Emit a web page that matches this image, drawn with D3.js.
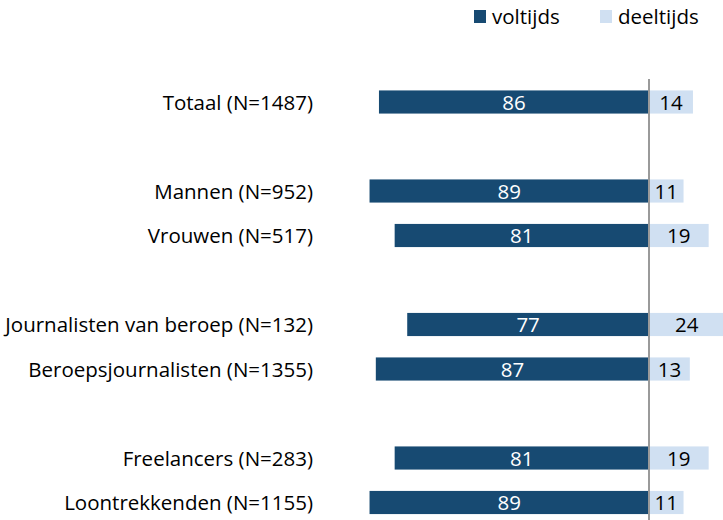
<!DOCTYPE html>
<html>
<head>
<meta charset="utf-8">
<style type="text/css">
body { margin: 0; background: #fff; }
text { font-family: 'Open Sans', sans-serif; }
</style>
</head>
<body>
<script src="https://d3js.org/d3.v7.min.js"></script>
<script type="text/javascript">

// data, blank names are the gaps between groups
const categories = ['Totaal (N=1487)', '', 'Mannen (N=952)', 'Vrouwen (N=517)', ' ',
  'Journalisten van beroep (N=132)', 'Beroepsjournalisten (N=1355)', '  ',
  'Freelancers (N=283)', 'Loontrekkenden (N=1155)'];
const voltijds = [86, null, 89, 81, null, 77, 87, null, 81, 89];
const deeltijds = [14, null, 11, 19, null, 24, 13, null, 19, 11];
const seriesNames = ['voltijds', 'deeltijds'];

const width = 723, height = 520;
const center = 649;

const svg = d3.select('body').append('svg')
    .attr('width', width)
    .attr('height', height);

// x: px per percent, left side goes negative
const x = d3.scaleLinear()
    .domain([-100, 100])
    .range([center - 314, center + 314]);

const y = d3.scaleBand()
    .domain(categories)
    .range([79.75, 524.75])
    .paddingInner(0.48)
    .paddingOuter(0.24);

const rows = categories.map((c, i) => ({name: c, vol: voltijds[i], deel: deeltijds[i]}))
    .filter(d => d.vol != null);

svg.selectAll('.barV')
    .data(rows)
  .enter().append('rect')
    .attr('x', d => x(-d.vol))
    .attr('width', d => x(0) - x(-d.vol))
    .attr('y', d => y(d.name))
    .attr('height', y.bandwidth())
    .attr('fill', '#174A72');

svg.selectAll('.barD')
    .data(rows)
  .enter().append('rect')
    .attr('x', x(0))
    .attr('width', d => x(d.deel) - x(0))
    .attr('y', d => y(d.name))
    .attr('height', y.bandwidth())
    .attr('fill', '#D0E0F2');

svg.selectAll('.lblV')
    .data(rows)
  .enter().append('text')
    .text(d => d.vol)
    .attr('x', d => (x(-d.vol) + x(0)) / 2)
    .attr('y', d => y(d.name) + y.bandwidth() / 2 + 7.5)
    .attr('text-anchor', 'middle')
    .attr('font-size', '20.5px')
    .attr('fill', '#fff');

svg.selectAll('.lblD')
    .data(rows)
  .enter().append('text')
    .text(d => d.deel)
    .attr('x', d => (x(d.deel) + x(0)) / 2)
    .attr('y', d => y(d.name) + y.bandwidth() / 2 + 7.5)
    .attr('text-anchor', 'middle')
    .attr('font-size', '20.5px')
    .attr('fill', '#000');

svg.selectAll('.name')
    .data(rows)
  .enter().append('text')
    .text(d => d.name)
    .attr('x', 313)
    .attr('y', d => y(d.name) + y.bandwidth() / 2 + 7.5)
    .attr('text-anchor', 'end')
    .attr('font-size', '20.5px')
    .attr('fill', '#000');

// center axis line
svg.append('line')
    .attr('x1', x(0))
    .attr('x2', x(0))
    .attr('y1', 79)
    .attr('y2', height)
    .attr('stroke', '#9a9a9a')
    .attr('stroke-width', 2);

// legend
const legendX = [474, 600];
const legendColors = ['#174A72', '#D0E0F2'];
const legend = svg.selectAll('.legend')
    .data(seriesNames)
  .enter().append('g')
    .attr('transform', (d, i) => 'translate(' + legendX[i] + ',10)');

legend.append('rect')
    .attr('width', 12)
    .attr('height', 13)
    .attr('fill', (d, i) => legendColors[i]);

legend.append('text')
    .text(d => d)
    .attr('x', 18)
    .attr('y', 14)
    .attr('font-size', '20.5px')
    .attr('fill', '#000');

</script>
</body>
</html>
